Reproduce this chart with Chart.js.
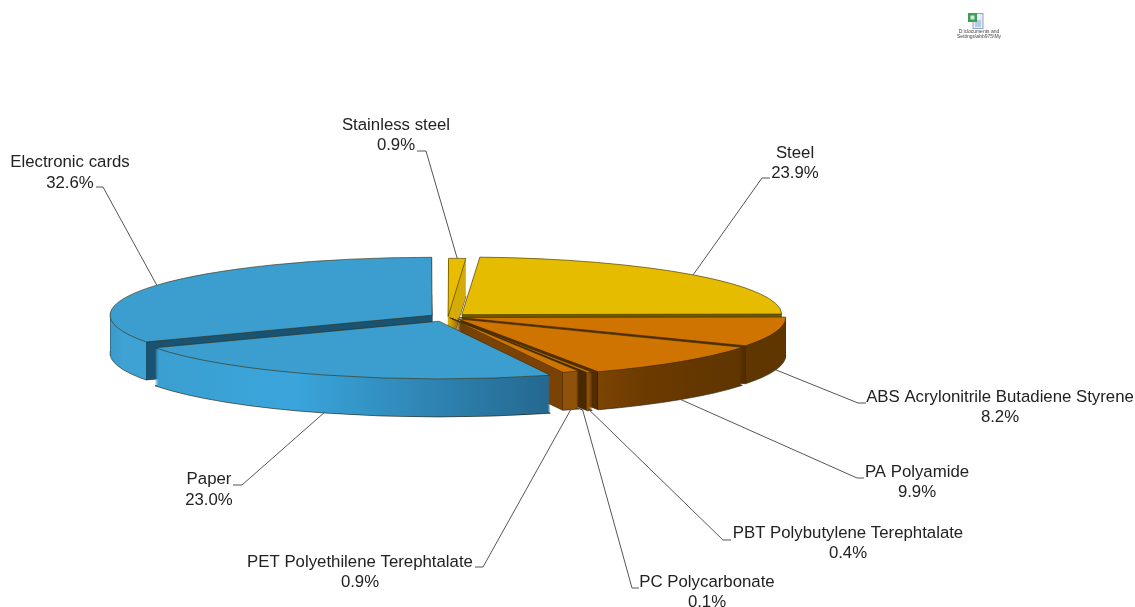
<!DOCTYPE html>
<html lang="en">
<head>
    <meta charset="utf-8">
    <title>Materials</title>
    <style>
        html, body { margin: 0; padding: 0; background: #fff; overflow: hidden; }
        #icon { position: absolute; left: 967px; top: 12px; }
    </style>
</head>

<body>
<canvas id="chart-pie" width="1135" height="607"></canvas>
<!--embedded file icon-->
<svg id="icon" width="18" height="18" viewBox="0 0 18 18">
    <rect x="6" y="1.5" width="10" height="15" fill="#e6edf6" stroke="#8fa3c2" stroke-width="1"/>
    <rect x="8" y="8" width="6" height="7" fill="#b8cbe4"/>
    <rect x="1" y="1" width="9" height="9" fill="#3d9e56"/>
    <rect x="3.5" y="3.5" width="4" height="4" fill="#cfe9d5"/>
</svg>

<script src="https://cdn.jsdelivr.net/npm/chart.js@4/dist/chart.umd.min.js"></script>
<script type="text/javascript">
    var categories = ["Stainless steel", "Steel", "ABS Acrylonitrile Butadiene Styrene", "PA Polyamide",
        "PBT Polybutylene Terephtalate", "PC Polycarbonate", "PET Polyethilene Terephtalate", "Paper", "Electronic cards"];
    var values = [0.9, 23.9, 8.2, 9.9, 0.4, 0.1, 0.9, 23.0, 32.6];

    // how far each slice is pulled out, px
    var explode = [3, 19, 12, 14, 10, 7, 4, 25, 18.6];

    var topColors = ["#e8bd00", "#e6bc00", "#cf7400", "#cf7400", "#cf7400", "#cf7400", "#cf7400", "#3c9dcf", "#3c9dcf"];
    var faceColors = ["#d4ac0a", "#6f5800", "#532d00", "#532d00", "#4a2800", "#4a2800", "#7a4204", "#1c5f86", "#1a5272"];
    var wallColors = [
        ["#d4ac0a", "#d4ac0a", "#d4ac0a"],
        ["#6f5800", "#6f5800", "#6f5800"],
        ["#5f3500", "#5f3500", "#5f3500"],
        ["#7b4403", "#6b3a00", "#5f3500"],
        ["#8a4e0a", "#8a4e0a", "#8a4e0a"],
        ["#6b3a00", "#6b3a00", "#6b3a00"],
        ["#8f520a", "#8f520a", "#8f520a"],
        ["#3b9fd0", "#3aa5dc", "#24688f"],
        ["#3a9acb", "#3fa2d4", "#3fa2d4"]
    ];

    // slices are painted back to front
    var drawOrder = [0, 8, 1, 2, 3, 4, 5, 6, 7];

    var squash = 0.18;
    var depth = 38;

    // label text centre, first and second line y, then the elbow and end of the leader line
    var labelX = [396, 795, 1000, 917, 848, 707, 360, 209, 70];
    var labelY = [125, 153, 397, 472, 533, 582, 562, 479, 162];
    var valueY = [145, 173, 417, 492, 553, 602, 582, 500, 183];
    var elbowX = [426, 762, 858, 857, 723, 632, 483, 242, 103];
    var elbowY = [151, 178, 403, 478, 540, 588, 567, 485, 187];
    var tickX = [417, 770, 866, 864, 731, 639, 475, 233, 96];

    // offset of an arc as the library applies it when it draws the element
    function arcInfo(arc) {
        var o = (arc.options.offset || 0) / 4;
        var mid = (arc.startAngle + arc.endAngle) / 2;
        var fix = 1 - Math.sin(Math.min(Math.PI, arc.circumference));
        return {
            o: o,
            mid: mid,
            dx: Math.cos(mid) * o,
            x: arc.x + Math.cos(mid) * o,
            y: arc.y + Math.sin(mid) * o * squash,
            r: arc.outerRadius + o * fix
        };
    }

    // x range of the rim that faces the viewer, null when the slice only shows a cut face
    function rimRange(arc, info) {
        var a = Math.max(arc.startAngle, 0);
        var b = Math.min(arc.endAngle, Math.PI);
        if (b <= a) {
            return null;
        }
        var x1 = info.x + Math.cos(a) * info.r;
        var x2 = info.x + Math.cos(b) * info.r;
        return [Math.min(x1, x2), Math.max(x1, x2)];
    }

    function wallPaint(ctx, arc, index) {
        var info = arcInfo(arc);
        var range = rimRange(arc, info);
        var face = faceColors[index];
        var wall = wallColors[index];
        if (!range) {
            return face;
        }
        // the element translates itself by its offset, so the gradient lives in that space
        var x0 = -200;
        var w = 1600;
        var l = range[0] - info.dx - x0;
        var r = range[1] - info.dx - x0;
        var g = ctx.createLinearGradient(x0, 0, x0 + w, 0);
        g.addColorStop(0, face);
        g.addColorStop(l / w, face);
        g.addColorStop(l / w, "#2c1800");
        g.addColorStop((l + 0.7) / w, wall[0]);
        g.addColorStop((l + (r - l) * 0.35) / w, wall[1]);
        g.addColorStop((r - 0.7) / w, wall[2]);
        g.addColorStop(r / w, "#2c1800");
        g.addColorStop(r / w, face);
        g.addColorStop(1, face);
        return g;
    }

    function drawSquashed(ctx, arc, shift, opts) {
        var saved = arc.options;
        arc.options = Object.assign({}, saved, opts);
        ctx.save();
        ctx.translate(arc.x, arc.y + shift);
        ctx.scale(1, squash);
        ctx.translate(-arc.x, -arc.y);
        arc.draw(ctx);
        ctx.restore();
        arc.options = saved;
    }

    var pie3d = {
        id: "pie3d",
        beforeDatasetDraw: function (chart, args) {
            var ctx = chart.ctx;
            var arcs = args.meta.data;
            drawOrder.forEach(function (i) {
                var paint = wallPaint(ctx, arcs[i], i);
                for (var d = depth; d >= 1; d--) {
                    drawSquashed(ctx, arcs[i], d, {
                        backgroundColor: paint,
                        borderWidth: d === depth ? 1 : 0,
                        borderColor: "#1d1400"
                    });
                }
                drawSquashed(ctx, arcs[i], 0, {});
            });
            return false;
        }
    };

    var pieLabels = {
        id: "pieLabels",
        afterDraw: function (chart) {
            var ctx = chart.ctx;
            var arcs = chart.getDatasetMeta(0).data;
            ctx.save();
            ctx.font = "16.8px 'Liberation Sans'";
            ctx.textAlign = "center";
            ctx.textBaseline = "middle";
            for (var i = 0; i < arcs.length; i++) {
                var info = arcInfo(arcs[i]);
                var sx = info.x + Math.cos(info.mid) * info.r;
                var sy = info.y + Math.sin(info.mid) * info.r * squash;
                if (Math.sin(info.mid) > 0) {
                    sy += depth;
                }
                ctx.strokeStyle = "#555";
                ctx.lineWidth = 1;
                ctx.beginPath();
                ctx.moveTo(sx, sy);
                ctx.lineTo(elbowX[i], elbowY[i]);
                ctx.lineTo(tickX[i], elbowY[i]);
                ctx.stroke();

                ctx.fillStyle = "#222";
                ctx.fillText(categories[i], labelX[i], labelY[i]);
                ctx.fillText(values[i].toFixed(1) + "%", labelX[i], valueY[i]);
            }
            // caption of the embedded file icon
            ctx.font = "5px 'Liberation Sans'";
            ctx.fillStyle = "#444";
            ctx.fillText("D:\\documents and", 979, 32);
            ctx.fillText("Settings\\abb975\\My", 979, 37);
            ctx.restore();
        }
    };

    new Chart(document.getElementById("chart-pie"), {
        type: "pie",
        data: {
            labels: categories,
            datasets: [{
                data: values,
                backgroundColor: topColors,
                borderColor: "#3a2a00",
                borderWidth: 1,
                offset: explode.map(function (o) { return o * 4; })
            }]
        },
        plugins: [pie3d, pieLabels],
        options: {
            responsive: false,
            animation: false,
            radius: 320,
            layout: { padding: { left: 0, right: 239, top: 27, bottom: 0 } },
            plugins: {
                legend: { display: false },
                tooltip: { enabled: false }
            }
        }
    });
</script>
</body>
</html>
